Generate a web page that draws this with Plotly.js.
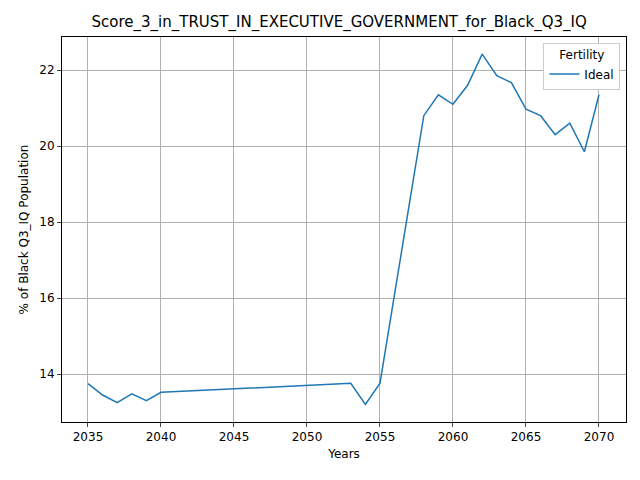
<!DOCTYPE html>
<html><head><script src="https://cdn.plot.ly/plotly-3.0.1.min.js"></script></head>
<body style="margin:0"><div id="c" style="width:640px;height:480px"></div>
<script>
const years=[2035,2036,2037,2038,2039,2040,2053,2054,2055,2056,2057,2058,2059,2060,2061,2062,2063,2064,2065,2066,2067,2068,2069,2070];
const ideal=[13.75,13.45,13.25,13.48,13.3,13.52,13.76,13.2,13.76,16.1,18.45,20.8,21.35,21.1,21.6,22.42,21.85,21.67,20.97,20.8,20.3,20.6,19.85,21.35];
const ax={showline:true,mirror:true,linecolor:'black',linewidth:1,ticks:'outside',ticklen:4,gridcolor:'#b0b0b0',zeroline:false,tickfont:{size:12,color:'black'}};
Plotly.newPlot('c',[{x:years,y:ideal,mode:'lines',name:'Ideal',line:{color:'#1f77b4',width:1.5}}],{
width:640,height:480,margin:{l:62,r:14,t:37,b:58},paper_bgcolor:'white',plot_bgcolor:'white',
font:{family:'DejaVu Sans',color:'black'},
title:{text:'Score_3_in_TRUST_IN_EXECUTIVE_GOVERNMENT_for_Black_Q3_IQ',font:{size:15},x:0.53,xanchor:'center',y:0.965},
xaxis:Object.assign({},ax,{range:[2033.22,2071.85],dtick:5,title:{text:'Years',font:{size:12},standoff:6}}),
yaxis:Object.assign({},ax,{range:[12.74,22.87],dtick:2,title:{text:'% of Black Q3_IQ Population',font:{size:12}}}),
showlegend:true,
legend:{x:0.99,y:0.985,xanchor:'right',yanchor:'top',bordercolor:'#cccccc',borderwidth:1,title:{text:'Fertility',side:'top center',font:{size:12}},font:{size:12}}
},{displayModeBar:false});
</script></body></html>
